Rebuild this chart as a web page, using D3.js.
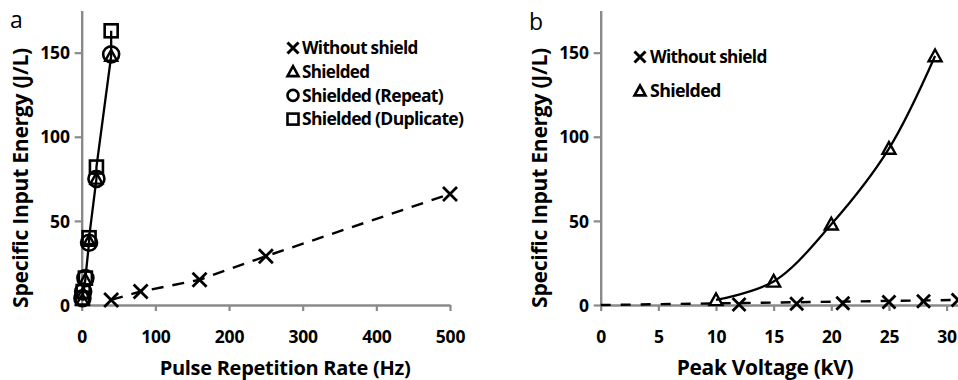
<!DOCTYPE html>
<html><head><meta charset="utf-8">
<script src="https://cdn.jsdelivr.net/npm/d3@7"></script>
<style>
body{margin:0;background:#fff;}
svg{display:block;font-family:"Open Sans", sans-serif;}
</style></head>
<body><svg id="c" width="958" height="380"></svg>
<script>
// ---- Panel a data (Pulse repetition rate, Hz -> J/L)
const rateNoShield = [40, 80, 160, 250, 500];
const energyNoShield = [3, 8, 15, 29, 66];
const rateShielded = [1, 2, 5, 10, 20, 40];
const energyShielded = [3, 7, 15, 38, 75, 148];
const rateRepeat = [1, 2, 5, 10, 20, 40];
const energyRepeat = [4, 8, 16, 37, 75, 149];
const rateDuplicate = [1, 2, 5, 10, 20, 40];
const energyDuplicate = [4, 8, 16, 40, 82, 163];
const xTicksA = [0, 100, 200, 300, 400, 500];
const yTicks = [0, 50, 100, 150];
const legendA = ["Without shield", "Shielded", "Shielded (Repeat)", "Shielded (Duplicate)"];
const legendShapesA = ["x", "tri", "circ", "sq"];

// ---- Panel b data (Peak voltage, kV -> J/L)
const voltNoShield = [12, 17, 21, 25, 28, 31];
const energyNoShieldB = [0.3, 0.8, 1, 1.8, 2.2, 3];
const trendVoltNoShieldB = [0, 31];
const trendEnergyNoShieldB = [0, 3];
const voltShielded = [10, 15, 20, 25, 29];
const energyShieldedB = [3, 14, 48, 93, 148];
const xTicksB = [0, 5, 10, 15, 20, 25, 30];
const legendB = ["Without shield", "Shielded"];
const legendShapesB = ["x", "tri"];

const svg = d3.select("#c");
const AX = "#8a8a8a";

function fit(sel, width, base) {
  sel.attr("font-size", base);
  const w = sel.node().getComputedTextLength();
  sel.attr("font-size", base * width / w);
  return sel;
}

function marker(g, shape, cx, cy, s, sw) {
  const h = s / 2;
  sw = sw || 2.4;
  if (shape === "x") {
    g.append("path").attr("d", `M${cx-h},${cy-h}L${cx+h},${cy+h}M${cx-h},${cy+h}L${cx+h},${cy-h}`)
      .attr("stroke", "#000").attr("stroke-width", sw + 0.4).attr("fill", "none");
  } else if (shape === "tri") {
    g.append("path").attr("d", `M${cx},${cy-h}L${cx+h},${cy+h*0.8}L${cx-h},${cy+h*0.8}Z`)
      .attr("stroke", "#000").attr("stroke-width", sw).attr("fill", "none");
  } else if (shape === "circ") {
    g.append("circle").attr("cx", cx).attr("cy", cy).attr("r", h)
      .attr("stroke", "#000").attr("stroke-width", sw).attr("fill", "none");
  } else {
    g.append("rect").attr("x", cx-h).attr("y", cy-h).attr("width", s).attr("height", s)
      .attr("stroke", "#000").attr("stroke-width", sw).attr("fill", "none");
  }
}

function drawAxes(g, x, y, xTicks) {
  const xa = g.append("g").attr("transform", `translate(0,${y(0)})`)
    .call(d3.axisBottom(x).tickValues(xTicks).tickSize(6).tickSizeOuter(0));
  const ya = g.append("g").attr("transform", `translate(${x(0)},0)`)
    .call(d3.axisLeft(y).tickValues(yTicks).tickSize(7).tickSizeOuter(0).tickPadding(5));
  [xa, ya].forEach(a => {
    a.select(".domain").attr("stroke", AX).attr("stroke-width", 2.4);
    a.selectAll(".tick line").attr("stroke", AX).attr("stroke-width", 2.2);
    a.selectAll(".tick text").attr("fill", "#000").attr("font-size", 17.5).attr("font-weight", "bold")
      .attr("font-family", "'Open Sans', sans-serif").attr("letter-spacing", -0.2);
  });
  xa.selectAll(".tick text").attr("y", 32).attr("dy", "0.35em");
  ya.selectAll(".tick text").attr("dy", "0.35em");
  return {xa, ya};
}

// ================= Panel a =================
const xA = d3.scaleLinear().domain([0, 500]).range([81.7, 450]);
const yA = d3.scaleLinear().domain([0, 175]).range([305, 10.6]);
const gA = svg.append("g");
drawAxes(gA, xA, yA, xTicksA);

gA.append("path").datum(rateNoShield.map((r, i) => [r, energyNoShield[i]]))
  .attr("d", d3.line().x(d => xA(d[0])).y(d => yA(d[1])))
  .attr("fill", "none").attr("stroke", "#000").attr("stroke-width", 2.4).attr("stroke-dasharray", "12,9");

const combined = [];
rateShielded.forEach((r, i) => combined.push([r, energyShielded[i]]));
rateRepeat.forEach((r, i) => combined.push([r, energyRepeat[i]]));
rateDuplicate.forEach((r, i) => combined.push([r, energyDuplicate[i]]));
combined.sort((a, b) => a[0] - b[0] || a[1] - b[1]);
gA.append("path").datum(combined)
  .attr("d", d3.line().x(d => xA(d[0])).y(d => yA(d[1])))
  .attr("fill", "none").attr("stroke", "#000").attr("stroke-width", 2.3);

const mA = gA.append("g");
rateNoShield.forEach((r, i) => marker(mA, "x", xA(r), yA(energyNoShield[i]), 14));
rateDuplicate.forEach((r, i) => marker(mA, "sq", xA(r), yA(energyDuplicate[i]), 13, 2.6));
rateRepeat.forEach((r, i) => marker(mA, "circ", xA(r), yA(energyRepeat[i]), 16, 2.6));
rateShielded.forEach((r, i) => marker(mA, "tri", xA(r), yA(energyShielded[i]), 12, 2.4));

const lgA = gA.append("g");
const widthsA = [115, 67, 140, 160];
legendA.forEach((t, i) => {
  const yy = 48 + i * 23.7;
  marker(lgA, legendShapesA[i], 293, yy, 11, 2.6);
  const tx = lgA.append("text").attr("x", 302).attr("y", yy).attr("dy", "0.36em")
    .attr("font-weight", "bold").attr("font-family", "'Open Sans', sans-serif").attr("letter-spacing", -0.7).text(t);
  fit(tx, widthsA[i], 16);
});

fit(gA.append("text").attr("x", 285).attr("y", 375).attr("text-anchor", "middle")
  .attr("font-weight", "bold").attr("letter-spacing", -0.3).text("Pulse Repetition Rate (Hz)"), 250, 18);
fit(gA.append("text").attr("transform", `translate(28,178) rotate(-90)`).attr("text-anchor", "middle")
  .attr("font-weight", "bold").attr("letter-spacing", -0.3).text("Specific Input Energy (J/L)"), 258, 17);
gA.append("text").attr("x", 10).attr("y", 28).attr("font-size", 23).text("a");

// ================= Panel b =================
const xB = d3.scaleLinear().domain([0, 35]).range([600.7, 600.7 + 35 * 11.53]);
const yB = d3.scaleLinear().domain([0, 175]).range([305, 10.6]);
const gB = svg.append("g");
drawAxes(gB, xB, yB, xTicksB);

gB.append("path").datum(trendVoltNoShieldB.map((v, i) => [v, trendEnergyNoShieldB[i]]))
  .attr("d", d3.line().x(d => xB(d[0])).y(d => yB(d[1])))
  .attr("fill", "none").attr("stroke", "#000").attr("stroke-width", 2.4).attr("stroke-dasharray", "10,10");

gB.append("path").datum(voltShielded.map((v, i) => [v, energyShieldedB[i]]))
  .attr("d", d3.line().curve(d3.curveCatmullRom.alpha(0.5)).x(d => xB(d[0])).y(d => yB(d[1])))
  .attr("fill", "none").attr("stroke", "#000").attr("stroke-width", 2.3);

const mB = gB.append("g");
voltNoShield.forEach((v, i) => marker(mB, "x", xB(v), yB(energyNoShieldB[i]), 13));
voltShielded.forEach((v, i) => marker(mB, "tri", xB(v), yB(energyShieldedB[i]), 13, 2.4));

const lgB = gB.append("g");
const widthsB = [116, 70];
legendB.forEach((t, i) => {
  const yy = 57 + i * 34;
  marker(lgB, legendShapesB[i], 640, yy, 11, 2.6);
  const tx = lgB.append("text").attr("x", 650).attr("y", yy).attr("dy", "0.36em")
    .attr("font-weight", "bold").attr("font-family", "'Open Sans', sans-serif").attr("letter-spacing", -0.7).text(t);
  fit(tx, widthsB[i], 16);
});

fit(gB.append("text").attr("x", 765).attr("y", 375).attr("text-anchor", "middle")
  .attr("font-weight", "bold").attr("letter-spacing", -0.3).text("Peak Voltage (kV)"), 176, 18);
fit(gB.append("text").attr("transform", `translate(547,178) rotate(-90)`).attr("text-anchor", "middle")
  .attr("font-weight", "bold").attr("letter-spacing", -0.3).text("Specific Input Energy (J/L)"), 258, 17);
gB.append("text").attr("x", 529).attr("y", 30).attr("font-size", 23).text("b");
</script></body></html>
